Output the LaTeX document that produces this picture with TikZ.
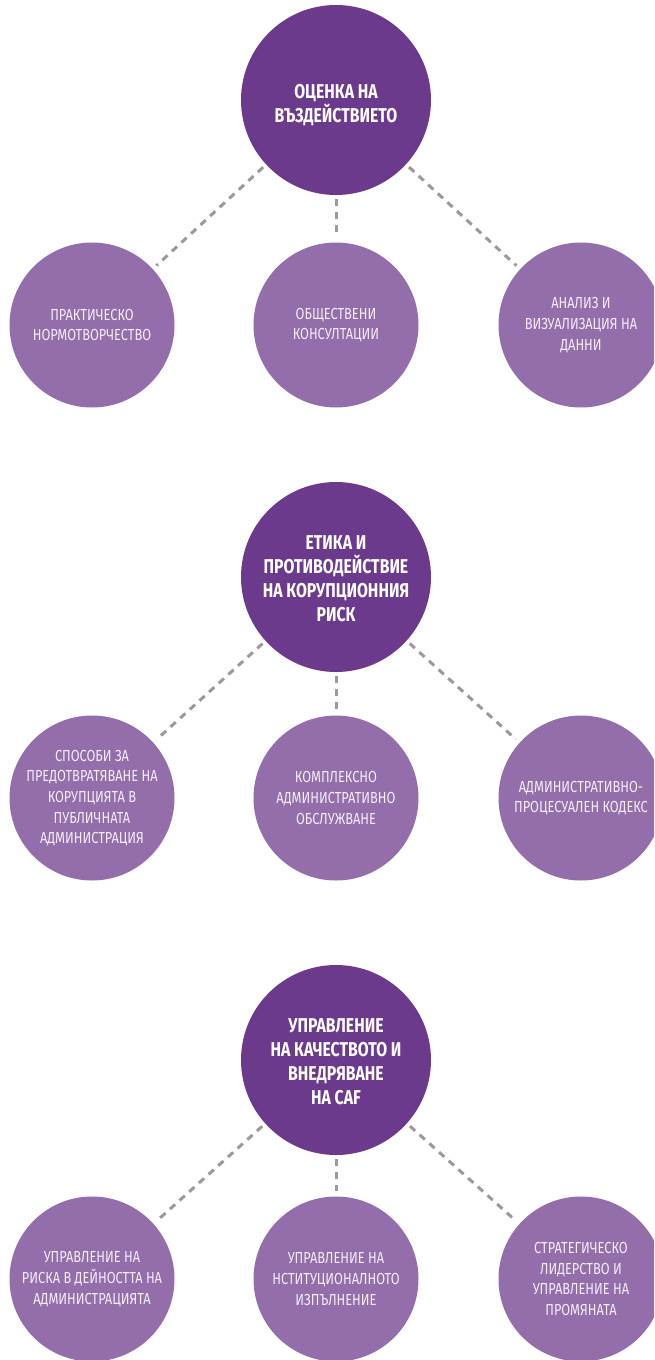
\documentclass[tikz,border=0pt]{standalone}
\usepackage{fontspec}
\setmainfont{Fira Sans}
\newfontfamily\headfont{Fira Sans}[FakeStretch=0.79]
\newfontfamily\subfont{Fira Sans}[FakeStretch=0.8]
\definecolor{darkpurple}{HTML}{6C3A8D}
\definecolor{lightpurple}{HTML}{946DAB}
\definecolor{dashgray}{HTML}{9F979C}
\definecolor{subtext}{HTML}{F4EEF7}
\tikzset{
  mainc/.style={circle, fill=darkpurple, minimum size=190pt, inner sep=0pt},
  maintext/.style={text=white, align=center, inner sep=0pt,
    font=\headfont\bfseries\fontsize{20}{24}\selectfont},
  subc/.style={circle, fill=lightpurple, minimum size=165pt, inner sep=0pt, text=subtext, align=center,
    font=\subfont\fontsize{16}{20.7}\selectfont},
  link/.style={draw=dashgray, line width=3pt, dash pattern=on 7pt off 6pt, shorten >=5pt, shorten <=4pt}
}
\begin{document}
\begin{tikzpicture}[x=1pt,y=-1pt]
\useasboundingbox (0,0) rectangle (654,1360);
\clip (0,0) rectangle (654,1360);
% group 1
\node[mainc] (t1) at (336,100) {};
\node[maintext] (t1l) at (336,105) {ОЦЕНКА НА\\ВЪЗДЕЙСТВИЕТО};
\node[subc] (a1) at (92,325) {ПРАКТИЧЕСКО\\НОРМОТВОРЧЕСТВО};
\node[subc] (b1) at (336,325) {ОБЩЕСТВЕНИ\\КОНСУЛТАЦИИ};
\node[subc] (c1) at (581,325) {АНАЛИЗ И\\ВИЗУАЛИЗАЦИЯ НА\\ДАННИ};
\draw[link] (t1) -- (a1);
\draw[link] (t1) -- (b1);
\draw[link] (t1) -- (c1);
% group 2
\node[mainc] (t2) at (336,577) {};
\node[maintext] (t2l) at (336,579) {ЕТИКА И\\ПРОТИВОДЕЙСТВИЕ\\НА КОРУПЦИОННИЯ\\РИСК};
\node[subc] (a2) at (92,798) {СПОСОБИ ЗА\\ПРЕДОТВРАТЯВАНЕ НА\\КОРУПЦИЯТА В\\ПУБЛИЧНАТА\\АДМИНИСТРАЦИЯ};
\node[subc] (b2) at (336,798) {КОМПЛЕКСНО\\АДМИНИСТРАТИВНО\\ОБСЛУЖВАНЕ};
\node[subc] (c2) at (581,798) {АДМИНИСТРАТИВНО-\\ПРОЦЕСУАЛЕН КОДЕКС};
\draw[link] (t2) -- (a2);
\draw[link] (t2) -- (b2);
\draw[link] (t2) -- (c2);
% group 3
\node[mainc] (t3) at (336,1060) {};
\node[maintext] (t3l) at (336,1062) {УПРАВЛЕНИЕ\\НА КАЧЕСТВОТО И\\ВНЕДРЯВАНЕ\\НА CAF};
\node[subc] (a3) at (92,1279) {УПРАВЛЕНИЕ НА\\РИСКА В ДЕЙНОСТТА НА\\АДМИНИСТРАЦИЯТА};
\node[subc] (b3) at (336,1279) {УПРАВЛЕНИЕ НА\\НСТИТУЦИОНАЛНОТО\\ИЗПЪЛНЕНИЕ};
\node[subc] (c3) at (581,1279) {СТРАТЕГИЧЕСКО\\ЛИДЕРСТВО И\\УПРАВЛЕНИЕ НА\\ПРОМЯНАТА};
\draw[link] (t3) -- (a3);
\draw[link] (t3) -- (b3);
\draw[link] (t3) -- (c3);
\end{tikzpicture}
\end{document}
